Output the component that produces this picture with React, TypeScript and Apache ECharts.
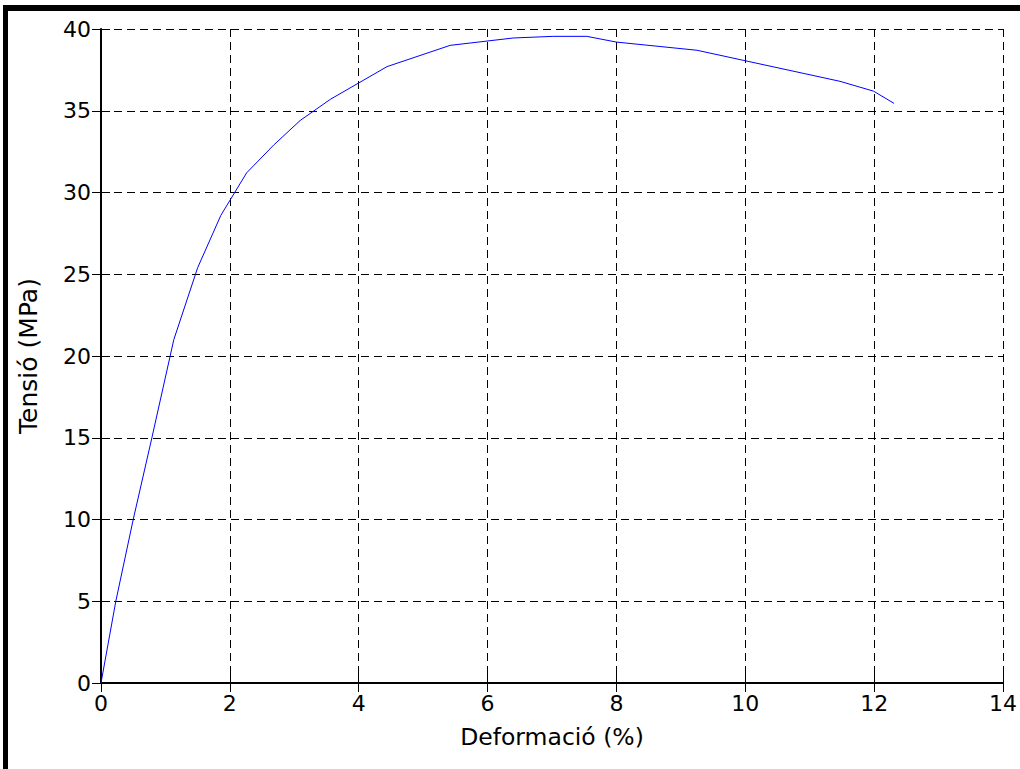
import React, { useEffect, useRef } from "react";
import * as echarts from "echarts";

const strain = [0, 0.23, 0.5, 0.79, 1.13, 1.5, 1.86, 2.26, 2.68, 3.09, 3.56, 4.44, 5.42, 6.4, 7.02, 7.54, 8.0, 9.25, 11.47, 11.99, 12.31];
const stress = [0, 5, 10, 15, 21, 25.4, 28.6, 31.2, 32.9, 34.4, 35.7, 37.7, 39.0, 39.45, 39.55, 39.55, 39.2, 38.7, 36.8, 36.2, 35.45];
const xName = "Deformació (%)";
const yName = "Tensió (MPa)";

const FONT = "DejaVu Sans";

export default function App() {
  const ref = useRef<HTMLDivElement>(null);
  useEffect(() => {
    const chart = echarts.init(ref.current!, null, { renderer: "svg" });
    const gridLine = { show: true, lineStyle: { color: "#000", type: [8, 5] as any, width: 1 } };
    const mirrorAxis = {
      min: 0,
      axisLine: { show: true, lineStyle: { color: "#000", width: 1 } },
      axisTick: { show: true, inside: true, length: 9, lineStyle: { color: "#000" } },
      axisLabel: { show: false },
      splitLine: { show: false },
    };
    chart.setOption({
      animation: false,
      backgroundColor: "#fff",
      grid: { left: 101, top: 29, right: 17, bottom: 86, containLabel: false },
      xAxis: [
        {
          type: "value",
          min: 0,
          max: 14,
          interval: 2,
          name: xName,
          nameLocation: "middle",
          nameGap: 42,
          nameTextStyle: { fontFamily: FONT, fontSize: 23.5, color: "#000" },
          axisLine: { show: true, onZero: false, lineStyle: { color: "#000", width: 2 } },
          axisTick: { show: true, inside: true, length: 9, lineStyle: { color: "#000" } },
          axisLabel: { fontFamily: FONT, fontSize: 22, color: "#000", margin: 9 },
          splitLine: gridLine,
        },
        { type: "value", position: "top", max: 14, interval: 2, ...mirrorAxis },
      ],
      yAxis: [
        {
          type: "value",
          min: 0,
          max: 40,
          interval: 5,
          name: yName,
          nameLocation: "middle",
          nameGap: 60,
          nameTextStyle: { fontFamily: FONT, fontSize: 25, color: "#000" },
          axisLine: { show: true, onZero: false, lineStyle: { color: "#000", width: 2 } },
          axisTick: { show: true, inside: true, length: 9, lineStyle: { color: "#000" } },
          axisLabel: { fontFamily: FONT, fontSize: 22, color: "#000", margin: 10 },
          splitLine: gridLine,
        },
        { type: "value", position: "right", max: 40, interval: 5, ...mirrorAxis },
      ],
      graphic: [
        { type: "rect", shape: { x: 3, y: 5, width: 1017, height: 6 }, style: { fill: "#000" } },
        { type: "rect", shape: { x: 3, y: 5, width: 5, height: 764 }, style: { fill: "#000" } },
      ],
      series: [
        {
          type: "line",
          data: strain.map((x, i) => [x, stress[i]]),
          showSymbol: false,
          lineStyle: { color: "#0000ff", width: 1 },
          xAxisIndex: 0,
          yAxisIndex: 0,
        },
      ],
    });
    return () => chart.dispose();
  }, []);
  return (
    <div
      ref={ref}
      style={{ position: "absolute", left: 0, top: 0, width: 1020, height: 769 }}
    />
  );
}
